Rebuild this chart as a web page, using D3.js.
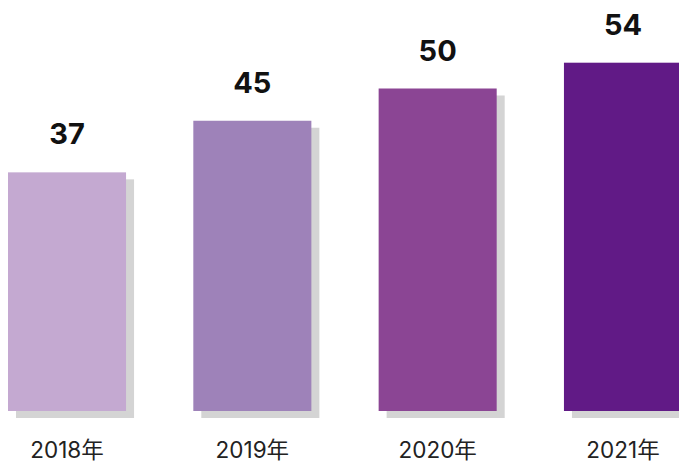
<!DOCTYPE html>
<html>
<head>
<meta charset="utf-8">
<script src="https://cdn.jsdelivr.net/npm/d3@7"></script>
<style>
  html, body { margin: 0; padding: 0; background: #fff; }
  svg { display: block; }
</style>
</head>
<body>
<svg id="chart" width="679" height="462"></svg>
<script>
// Yearly values shown as bars with a soft offset shadow
const categories = ["2018年", "2019年", "2020年", "2021年"];
const values = [37, 45, 50, 54];
const barColors = ["#c4a9d1", "#9e82b9", "#8b4594", "#611a86"];

const svg = d3.select("#chart");
const baseline = 411;

// step of ~185px with 118px-wide bands; last bar runs off the right edge
const x = d3.scaleBand()
  .domain(categories)
  .range([8, 682])
  .paddingInner(0.363)
  .paddingOuter(0);

const y = d3.scaleLinear()
  .domain([0, 54])
  .range([baseline, baseline - 54 * 6.45]);

const shadowOffset = { dx: 8, dy: 7 };

const g = svg.append("g");

// shadows
g.selectAll("rect.shadow")
  .data(values)
  .join("rect")
  .attr("class", "shadow")
  .attr("x", (d, i) => x(categories[i]) + shadowOffset.dx)
  .attr("y", d => y(d) + shadowOffset.dy)
  .attr("width", x.bandwidth())
  .attr("height", d => baseline - y(d))
  .attr("fill", "#d4d4d4");

// bars
g.selectAll("rect.bar")
  .data(values)
  .join("rect")
  .attr("class", "bar")
  .attr("x", (d, i) => x(categories[i]))
  .attr("y", d => y(d))
  .attr("width", x.bandwidth())
  .attr("height", d => baseline - y(d))
  .attr("fill", (d, i) => barColors[i]);

// value labels
g.selectAll("text.value")
  .data(values)
  .join("text")
  .attr("class", "value")
  .attr("x", (d, i) => x(categories[i]) + x.bandwidth() / 2)
  .attr("y", d => y(d) - 28)
  .attr("text-anchor", "middle")
  .attr("font-family", "Inter, 'Liberation Sans', Arial, sans-serif")
  .attr("font-weight", "700")
  .attr("font-size", 29)
  .attr("fill", "#111")
  .text(d => d);

// category axis labels
const axis = d3.axisBottom(x).tickSize(0).tickPadding(0);
const axisG = svg.append("g")
  .attr("transform", `translate(0, ${baseline})`)
  .call(axis);
axisG.select(".domain").remove();
axisG.selectAll("text")
  .attr("dy", null)
  .attr("y", 47)
  .attr("font-family", "Inter, 'Noto Sans CJK SC', sans-serif")
  .attr("font-size", 22.5)
  .attr("fill", "#222");
</script>
</body>
</html>
